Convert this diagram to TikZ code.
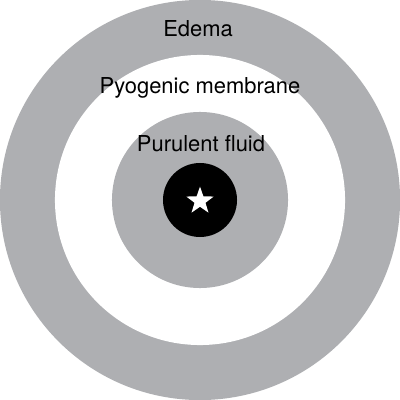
\documentclass[tikz,border=0pt]{standalone}
\usepackage{fontspec}
\setmainfont{TeX Gyre Heros}
\usetikzlibrary{shapes.geometric}
\definecolor{ringgray}{RGB}{174,175,178}
\tikzset{
  lbl/.style={font=\fontsize{15.6pt}{18pt}\selectfont, text=black, inner sep=0pt, anchor=base},
}
\begin{document}
\begin{tikzpicture}[x=0.025cm,y=-0.025cm]
\useasboundingbox (0,0) rectangle (400,400);
\fill[white] (0,0) rectangle (400,400);
\node[circle, fill=ringgray, minimum size=10cm, inner sep=0pt] (edema) at (200,200) {};
\node[circle, fill=white, minimum size=7.25cm, inner sep=0pt] (membrane) at (200,200) {};
\node[circle, fill=ringgray, minimum size=4.4cm, inner sep=0pt] (fluid) at (200,200) {};
\node[circle, fill=black, minimum size=1.85cm, inner sep=0pt] (core) at (200,200) {};
\node[star, star points=5, star point ratio=2.5, fill=white, minimum size=0.72cm, inner sep=0pt] (st) at (200,201) {};
\node[lbl] (t1) at (198,37) {Edema};
\node[lbl] (t2) at (200,94) {Pyogenic membrane};
\node[lbl] (t3) at (201,152) {Purulent fluid};
\end{tikzpicture}
\end{document}
